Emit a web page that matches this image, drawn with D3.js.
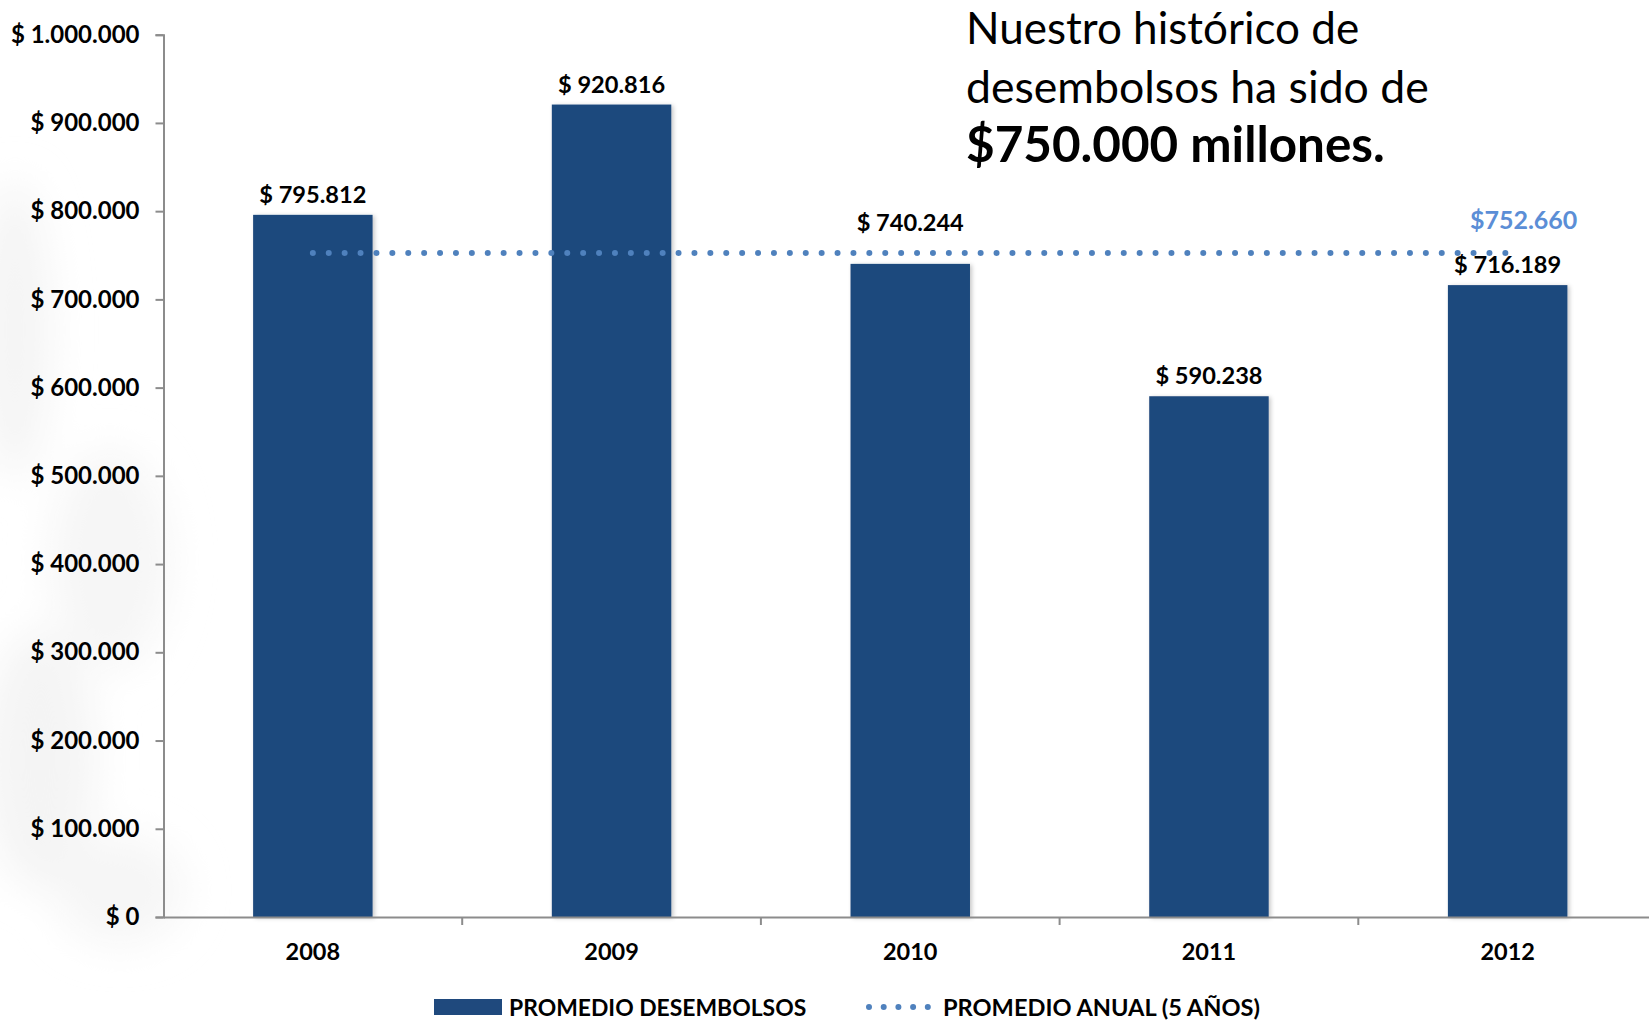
<!DOCTYPE html>
<html><head><meta charset="utf-8">
<script src="https://cdn.jsdelivr.net/npm/d3@7"></script>
<style>
html,body{margin:0;padding:0;background:#fff;}
svg{display:block;font-family:Lato,"Open Sans",sans-serif;}
</style></head>
<body><svg id="c" width="1649" height="1020"></svg>
<script>
const years = ["2008","2009","2010","2011","2012"];
const disbursements = [795812, 920816, 740244, 590238, 716189];
const annualAverage = 752660;
const yTicks = [0,100000,200000,300000,400000,500000,600000,700000,800000,900000,1000000];
const seriesNames = ["PROMEDIO DESEMBOLSOS","PROMEDIO ANUAL (5 AÑOS)"];
const titleLines = ["Nuestro histórico de","desembolsos ha sido de","$750.000 millones."];

const W=1649,H=1020;
const svg=d3.select("#c");
const loc=d3.formatLocale({decimal:",",thousands:".",grouping:[3],currency:["$",""]});
const fmt=loc.format(",d");
const money=v=>"$ "+fmt(v);

const barColor="#1F497D", lineColor="#4F81BD", avgLabelColor="#5B8ED6", axisColor="#8c8c8c";

// faint watermark on left
const defs=svg.append("defs");
const blur=defs.append("filter").attr("id","blur").attr("x","-50%").attr("y","-50%").attr("width","200%").attr("height","200%");
blur.append("feGaussianBlur").attr("stdDeviation",20);
const sh=defs.append("filter").attr("id","sh").attr("x","-10%").attr("y","-10%").attr("width","130%").attr("height","130%");
sh.append("feDropShadow").attr("dx",2).attr("dy",1).attr("stdDeviation",2).attr("flood-color","#000").attr("flood-opacity",0.22);
const wm=svg.append("g").attr("filter","url(#blur)").attr("fill","#f4f4f4");
wm.append("ellipse").attr("cx",15).attr("cy",330).attr("rx",35).attr("ry",150);
wm.append("ellipse").attr("cx",110).attr("cy",560).attr("rx",60).attr("ry",110).attr("fill","#f6f6f6");
wm.append("ellipse").attr("cx",40).attr("cy",760).attr("rx",55).attr("ry",130);
wm.append("ellipse").attr("cx",120).attr("cy",890).attr("rx",65).attr("ry",55).attr("fill","#f6f6f6");

const x=d3.scaleBand().domain(years).range([163.5,1657]).padding(0);
const y=d3.scaleLinear().domain([0,1000000]).range([917,34.7]);
const bw=x.bandwidth()*0.4;

// y axis
const yAxis=svg.append("g").attr("transform","translate(163.5,0)")
  .call(d3.axisLeft(y).tickValues(yTicks).tickSize(8).tickPadding(16).tickFormat(money));
yAxis.select(".domain").attr("stroke",axisColor).attr("stroke-width",2);
yAxis.selectAll(".tick line").attr("stroke",axisColor).attr("stroke-width",2);
yAxis.selectAll(".tick text").attr("font-size",24).attr("font-weight","bold").attr("fill","#000").attr("font-family","Lato");

// bars
svg.append("g").selectAll("rect").data(years).join("rect")
  .attr("x",d=>x(d)+x.bandwidth()/2-bw/2).attr("width",bw)
  .attr("y",(d,i)=>y(disbursements[i])).attr("height",(d,i)=>y(0)-y(disbursements[i]))
  .attr("fill",barColor).attr("filter","url(#sh)");

// x axis
const xAxis=svg.append("g").attr("transform","translate(0,917)")
  .call(d3.axisBottom(x).tickSize(0).tickPadding(26));
xAxis.select(".domain").attr("stroke",axisColor).attr("stroke-width",2);
xAxis.selectAll(".tick text").attr("font-size",23.5).attr("font-weight","bold").attr("fill","#000").attr("font-family","Lato");
xAxis.selectAll(".sep").data(years.slice(1)).join("line").attr("class","sep")
  .attr("x1",d=>x(d)).attr("x2",d=>x(d)).attr("y1",0).attr("y2",8).attr("stroke",axisColor).attr("stroke-width",2);

// average dotted line
const cx=d=>x(d)+x.bandwidth()/2;
svg.append("line").attr("x1",cx(years[0])).attr("x2",cx(years[years.length-1]))
  .attr("y1",y(annualAverage)).attr("y2",y(annualAverage))
  .attr("stroke",lineColor).attr("stroke-width",6).attr("stroke-linecap","round")
  .attr("stroke-dasharray","0 15.9");

// value labels
const avgY=y(annualAverage);
svg.append("g").selectAll("text").data(years).join("text")
  .attr("x",d=>cx(d)).attr("text-anchor","middle")
  .attr("y",(d,i)=>{let b=y(disbursements[i])-12; if(b>=avgY-2 && b-16<=avgY+2) b=avgY-22; return b;})
  .attr("font-size",23.6).attr("font-weight","bold").attr("fill","#000")
  .text((d,i)=>money(disbursements[i]));

svg.append("text").attr("x",cx(years[years.length-1])+16).attr("y",avgY-24).attr("text-anchor","middle")
  .attr("font-size",25).attr("font-weight","bold").attr("fill",avgLabelColor).text("$"+fmt(annualAverage));

// title
const t=svg.append("text").attr("x",966).attr("fill","#000");
const tSizes=[44,44.6,49.4];
titleLines.forEach((s,i)=>{
  t.append("tspan").attr("x",966).attr("y",44+i*59).attr("font-size",tSizes[i]).attr("font-weight",i<2?"normal":"bold").text(s);
});

// legend
const lg=svg.append("g");
lg.append("rect").attr("x",434).attr("y",999).attr("width",68).attr("height",16).attr("fill",barColor);
lg.append("text").attr("x",509).attr("y",1016).attr("font-size",22.9).attr("font-weight","bold").text(seriesNames[0]);
lg.append("line").attr("x1",869).attr("x2",928).attr("y1",1007).attr("y2",1007).attr("stroke",lineColor)
  .attr("stroke-width",6).attr("stroke-linecap","round").attr("stroke-dasharray","0 14.7");
lg.append("text").attr("x",943).attr("y",1016).attr("font-size",23.6).attr("font-weight","bold").text(seriesNames[1]);
</script></body></html>
